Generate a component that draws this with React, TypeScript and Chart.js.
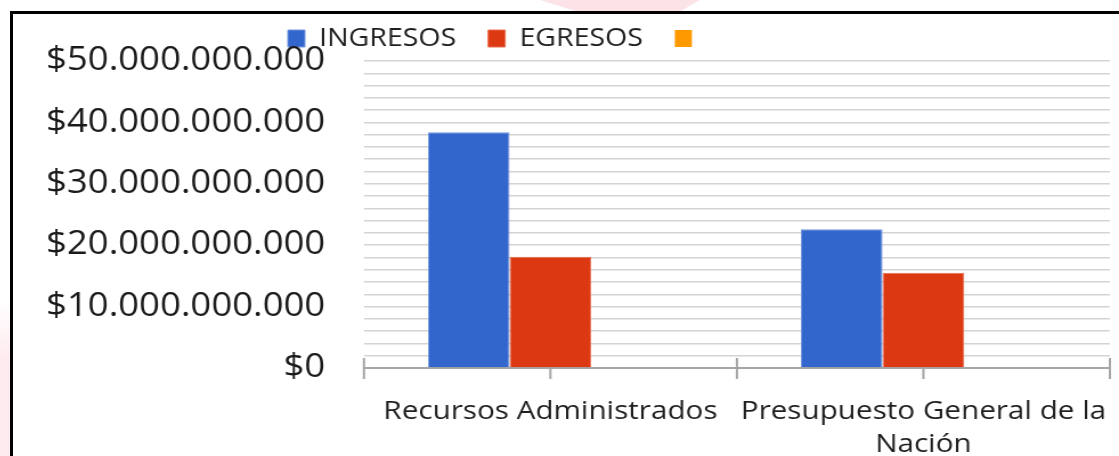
import React, { useEffect, useRef } from "react";
import { Chart, registerables } from "chart.js";

Chart.register(...registerables);

const categories: (string | string[])[] = [
  "Recursos Administrados",
  ["Presupuesto General de la", "Nación"],
];
const seriesLabels = ["INGRESOS", "EGRESOS", ""];
const ingresos = [38400000000, 22600000000];
const egresos = [18100000000, 15500000000];
const serie3 = [0, 0];
const yMin = 0;
const yMax = 50000000000;
const yGridStep = 2000000000;
const yLabelStep = 10000000000;

const COLORS = ["#3366CC", "#DC3912", "#FF9900"];
const BORDERS = ["#7396dc", "#ea6f50", "#FF9900"];

const STRETCH = 1106 / 970;
const PAD_LEFT = 20;
const CHART_LEFT = 307.8;
const LEGEND_START = 241;
const LEGEND_GAP = 28;

function fmt(v: number): string {
  return "$" + Math.round(v).toString().replace(/\B(?=(\d{3})+(?!\d))/g, ".");
}

const axisTicks = {
  id: "axisTicks",
  beforeDatasetsDraw(chart: any) {
    const x = chart.scales.x;
    const ctx = chart.ctx;
    const y0 = chart.chartArea.bottom;
    ctx.save();
    ctx.strokeStyle = "#a6a6a6";
    ctx.lineWidth = 2;
    const n = chart.data.labels.length;
    ctx.beginPath();
    for (let i = 0; i <= n; i++) {
      const px = x.getPixelForValue(i - 0.5);
      ctx.moveTo(px, y0 - 10);
      ctx.lineTo(px, y0 + 11);
    }
    for (let i = 0; i < n; i++) {
      const px = x.getPixelForValue(i);
      ctx.moveTo(px, y0 - 10);
      ctx.lineTo(px, y0 + 11);
    }
    ctx.stroke();
    ctx.restore();
  },
};

const legendShift = {
  id: "legendShift",
  afterLayout(chart: any) {
    const lg = chart.legend;
    if (!lg) return;
    const shift = LEGEND_START - (lg.left + LEGEND_GAP);
    lg.left += shift;
    lg.right += shift;
  },
};

export default function App() {
  const ref = useRef<HTMLCanvasElement>(null);
  useEffect(() => {
    const chart = new Chart(ref.current!, {
      type: "bar",
      data: {
        labels: categories,
        datasets: [
          { label: seriesLabels[0], data: ingresos, backgroundColor: COLORS[0], borderColor: BORDERS[0], borderWidth: 1 },
          { label: seriesLabels[1], data: egresos, backgroundColor: COLORS[1], borderColor: BORDERS[1], borderWidth: 1 },
          { label: seriesLabels[2], data: serie3, backgroundColor: COLORS[2], borderColor: BORDERS[2], borderWidth: 0 },
        ],
      },
      options: {
        animation: false,
        responsive: true,
        maintainAspectRatio: false,
        layout: { padding: { left: PAD_LEFT, right: 8, top: -16, bottom: 0 } },
        datasets: { bar: { categoryPercentage: 0.657, barPercentage: 1 } },
        plugins: {
          legend: {
            position: "top",
            align: "start",
            labels: {
              boxWidth: 15,
              boxHeight: 17,
              padding: LEGEND_GAP,
              color: "#1f1f1f",
              font: { family: "'Open Sans'", size: 25 },
            },
          },
          tooltip: { enabled: false },
        },
        scales: {
          x: {
            offset: true,
            afterFit(scale: any) {
              scale.height = 88;
              scale.paddingLeft = 0;
              scale.paddingRight = 0;
            },
            grid: { display: true, drawOnChartArea: false, drawTicks: false, offset: true },
            border: { display: true, color: "#a6a6a6", width: 2 },
            ticks: {
              color: "#1f1f1f",
              padding: 27,
              maxRotation: 0,
              autoSkip: false,
              font: { family: "'Open Sans'", size: 26, lineHeight: 1.27 },
            },
          },
          y: {
            min: yMin,
            max: yMax,
            afterFit(scale: any) {
              scale.width = CHART_LEFT - PAD_LEFT;
              scale.paddingTop = 0;
              scale.paddingBottom = 0;
            },
            grid: { color: "#d4d4d4", lineWidth: 1.5, drawTicks: false },
            border: { display: false },
            ticks: {
              stepSize: yGridStep,
              maxTicksLimit: 100,
              autoSkip: false,
              padding: 34,
              color: "#1a1a1a",
              font: { family: "'Open Sans'", size: 32 },
              callback: (v: any) => (Number(v) % yLabelStep === 0 ? fmt(Number(v)) : ""),
            },
          },
        },
      },
      plugins: [axisTicks, legendShift],
    });
    return () => chart.destroy();
  }, []);

  return (
    <div style={{ position: "absolute", left: 0, top: 0, width: 1119, height: 456, background: "#fff", overflow: "hidden" }}>
      <div
        style={{
          position: "absolute",
          left: 0,
          top: 300,
          width: 10,
          height: 156,
          background: "linear-gradient(to bottom, rgba(252,228,233,0) 0%, #fdeaee 40%, #fdeaee 100%)",
        }}
      />
      <div
        style={{
          position: "absolute",
          left: 540,
          top: 0,
          width: 160,
          height: 11,
          background: "#fbe3e8",
          clipPath: "polygon(0 0, 100% 0, 88% 100%, 22% 100%)",
        }}
      />
      <div
        style={{
          position: "absolute",
          left: 10,
          top: 11,
          width: 1109,
          height: 445,
          boxSizing: "border-box",
          borderTop: "3px solid #000",
          borderLeft: "3px solid #000",
          background: "#fff",
        }}
      >
        <div style={{ position: "relative", width: 970, height: 442, transform: `scaleX(${STRETCH})`, transformOrigin: "0 0" }}>
          <canvas ref={ref} />
        </div>
      </div>
    </div>
  );
}
